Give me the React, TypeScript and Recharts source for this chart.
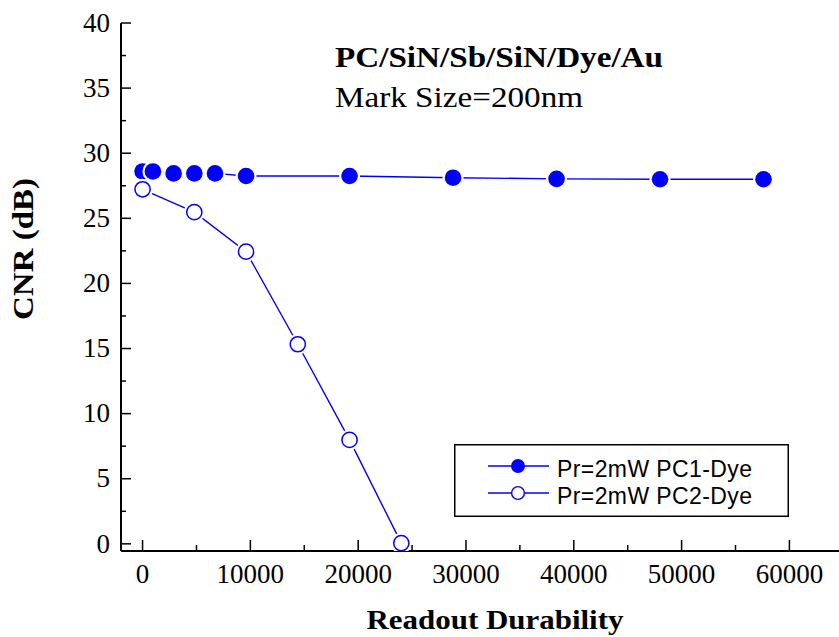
import React from 'react';
import { LineChart, Line, XAxis, YAxis, Legend } from 'recharts';

// readout cycles vs CNR
const pc1Durability = [0, 960, 2880, 4800, 6720, 9600, 19200, 28800, 38400, 48000, 57600];
const pc1Cnr = [28.6, 28.6, 28.45, 28.45, 28.45, 28.25, 28.25, 28.12, 28.03, 28.0, 28.0];
const pc2Durability = [0, 4800, 9600, 14400, 19200, 24000];
const pc2Cnr = [27.23, 25.47, 22.44, 15.33, 7.98, 0.05];

const xTicks = [0, 5000, 10000, 15000, 20000, 25000, 30000, 35000, 40000, 45000, 50000, 55000, 60000];
const yTicks = [0, 2.5, 5, 7.5, 10, 12.5, 15, 17.5, 20, 22.5, 25, 27.5, 30, 32.5, 35, 37.5, 40];
const seriesNames = ['Pr=2mW PC1-Dye', 'Pr=2mW PC2-Dye'];

const BLUE = '#0000ff';
const SERIF = '"Liberation Serif", "Times New Roman", serif';
const SANS = '"Liberation Sans", Arial, sans-serif';

const toPoints = (xs: number[], ys: number[]) => xs.map((x, i) => ({ x, y: ys[i] }));

const series = [
  { name: seriesNames[0], data: toPoints(pc1Durability, pc1Cnr), filled: true },
  { name: seriesNames[1], data: toPoints(pc2Durability, pc2Cnr), filled: false },
];

// white halo under each marker gives the little gap between line and symbol
const Marker = ({ cx, cy, filled }: any) => (
  <g>
    <circle cx={cx} cy={cy} r={10.5} fill="#fff" />
    <circle cx={cx} cy={cy} r={filled ? 8.3 : 7.6} fill={filled ? BLUE : '#fff'}
      stroke={BLUE} strokeWidth={filled ? 0 : 1.5} />
  </g>
);

const YTick = ({ x, y, payload }: any) => {
  const v = payload.value;
  const major = v % 5 === 0;
  return (
    <g>
      <line x1={x} x2={x + (major ? 10 : 5)} y1={y} y2={y} stroke="#000" strokeWidth={1.5} />
      {major && (
        <text x={x - 11} y={y + 8.7} textAnchor="end" fontFamily={SERIF} fontSize={27} fill="#000">{v}</text>
      )}
    </g>
  );
};

const XTick = ({ x, y, payload }: any) => {
  const v = payload.value;
  const major = v % 10000 === 0;
  return (
    <g>
      <line x1={x} x2={x} y1={y} y2={y - (major ? 11 : 6)} stroke="#000" strokeWidth={1.5} />
      {major && (
        <text x={x} y={y + 32} textAnchor="middle" fontFamily={SERIF} fontSize={27} fill="#000">{v}</text>
      )}
    </g>
  );
};

const TopTick = ({ x, y }: any) => (
  <line x1={x} x2={x} y1={y} y2={y + 4} stroke="#000" strokeWidth={1.2} />
);

const LegendBox = () => (
  <svg width={335} height={73} style={{ display: 'block' }}>
    <rect x={0.75} y={0.75} width={333.5} height={71.5} fill="#fff" stroke="#000" strokeWidth={1.5} />
    {series.map((s, i) => {
      const cy = 22 + i * 27;
      return (
        <g key={s.name}>
          <line x1={34} x2={95} y1={cy} y2={cy} stroke={BLUE} strokeWidth={1.5} />
          <circle cx={64} cy={cy} r={s.filled ? 7 : 6.4} fill={s.filled ? BLUE : '#fff'}
            stroke={BLUE} strokeWidth={s.filled ? 0 : 1.4} />
          <text x={103} y={cy + 11.3} fontFamily={SANS} fontSize={23} letterSpacing={0.4} fill="#000">{s.name}</text>
        </g>
      );
    })}
  </svg>
);

const axisLine = { stroke: '#000', strokeWidth: 2 };

export default function App() {
  return (
    <div style={{ position: 'absolute', left: 0, top: 0, width: 839, height: 637, background: '#fff' }}>
      <LineChart width={839} height={637} margin={{ top: 23, right: 0, bottom: 0, left: 0 }}>
        <XAxis xAxisId="top" orientation="top" type="number" domain={[-2000, 64600]} ticks={xTicks}
          height={0} tickSize={0} tickMargin={0} tick={<TopTick />} tickLine={false}
          stroke="#000" axisLine={axisLine} allowDataOverflow />
        <XAxis dataKey="x" type="number" domain={[-2000, 64600]} ticks={xTicks} height={86}
          tickSize={0} tickMargin={0} tick={<XTick />} tickLine={false}
          stroke="#000" axisLine={axisLine} allowDataOverflow />
        <YAxis type="number" domain={[-0.55, 40]} ticks={yTicks} width={121}
          tickSize={0} tickMargin={0} tick={<YTick />} tickLine={false}
          stroke="#000" axisLine={axisLine} allowDataOverflow />
        <Legend layout="horizontal" verticalAlign="middle" align="center" content={() => <LegendBox />}
          wrapperStyle={{ position: 'absolute', left: 454, top: 444, width: 335, height: 73 }} />
        {series.map(s => (
          <Line key={s.name} data={s.data} dataKey="y" name={s.name} type="linear"
            stroke={BLUE} strokeWidth={1.4} isAnimationActive={false}
            dot={(p: any) => <Marker key={p.index} cx={p.cx} cy={p.cy} filled={s.filled} />}
            activeDot={false} />
        ))}
      </LineChart>
      <svg width={839} height={637} style={{ position: 'absolute', left: 0, top: 0, pointerEvents: 'none' }}>
        <text x={335} y={66.7} fontFamily={SERIF} fontWeight="bold" fontSize={30}
          textLength={328} lengthAdjust="spacingAndGlyphs" fill="#000">PC/SiN/Sb/SiN/Dye/Au</text>
        <text x={335} y={107.3} fontFamily={SERIF} fontSize={30}
          textLength={248} lengthAdjust="spacingAndGlyphs" fill="#000">Mark Size=200nm</text>
        <text x={495} y={629} textAnchor="middle" fontFamily={SERIF} fontWeight="bold" fontSize={28}
          textLength={257} lengthAdjust="spacingAndGlyphs" fill="#000">Readout Durability</text>
        <text transform="translate(33,249) rotate(-90)" textAnchor="middle" fontFamily={SERIF}
          fontWeight="bold" fontSize={30} textLength={142} lengthAdjust="spacingAndGlyphs" fill="#000">CNR (dB)</text>
      </svg>
    </div>
  );
}
